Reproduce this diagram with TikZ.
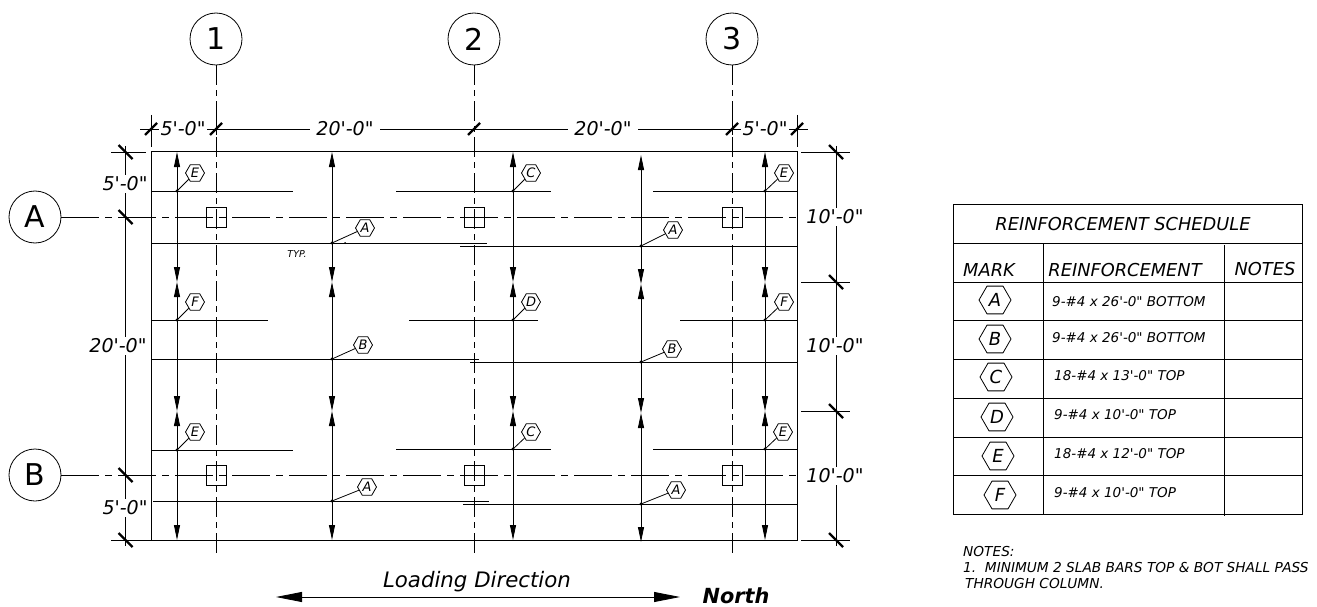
\documentclass[tikz,border=0pt]{standalone}
\usepackage{fontspec}
\setmainfont{DejaVu Sans}[Ligatures=TeXOff]
\usetikzlibrary{shapes.geometric, arrows.meta}
\newcommand{\dimfont}{\fontsize{19}{19}\selectfont\itshape}
\tikzset{
    thinline/.style={line width=.8pt},
    gridv/.style={thinline, dash pattern=on 20pt off 5pt on 6pt off 5pt},
    gridh/.style={thinline, dash pattern=on 38pt off 6pt on 7pt off 6pt},
    barline/.style={line width=.9pt, {Triangle[length=15pt, width=6pt]}-{Triangle[length=15pt, width=6pt]}},
    dimtext/.style={font=\dimfont, fill=white, inner sep=1.5pt},
    bubble/.style={circle, draw, thinline, minimum size=52pt, inner sep=0pt, font=\fontsize{30}{30}\selectfont},
    bartag/.style={regular polygon, regular polygon sides=6, draw, thinline, minimum size=19pt, inner sep=0pt,
        font=\fontsize{13}{13}\selectfont\itshape},
    marktag/.style={regular polygon, regular polygon sides=6, draw, thinline, minimum size=32pt, inner sep=0pt,
        font=\fontsize{18}{18}\selectfont\itshape},
    rowtext/.style={anchor=west, inner sep=0pt, font=\fontsize{13.5}{13.5}\selectfont\itshape},
    notetext/.style={rowtext, font=\fontsize{13.7}{13.7}\selectfont\itshape},
    headtext/.style={inner sep=0pt, font=\fontsize{17.8}{17.8}\selectfont\itshape},
    risetick/.pic={
        \draw[line width=2.2pt] (-6,6) -- (6,-6);
    },
    falltick/.pic={
        \draw[line width=2.2pt] (-7,-7) -- (7,7);
    },
    column/.pic={
        \draw[thinline] (-10,-10) rectangle (10,10);
    },
}

\begin{document}
\begin{tikzpicture}[x=1pt, y=-1pt]
    \useasboundingbox (0,0) rectangle (1317,607);
    % grid bubbles
    \node[bubble] (bubble1) at (216,39) {1};
    \node[bubble] (bubble2) at (474,39) {2};
    \node[bubble] (bubble3) at (732,39) {3};
    \node[bubble] (bubbleA) at (35,217) {A};
    \node[bubble] (bubbleB) at (35,475) {B};
    \coordinate (end1) at (216,553);
    \coordinate (end2) at (474,553);
    \coordinate (end3) at (732,553);
    \coordinate (endA) at (797,217);
    \coordinate (endB) at (797,475);
    \draw[gridv] (bubble1) -- (end1);
    \draw[gridv] (bubble2) -- (end2);
    \draw[gridv] (bubble3) -- (end3);
    \draw[gridh] (bubbleA) -- (endA);
    \draw[gridh] (bubbleB) -- (endB);
    % slab and columns
    \draw[line width=1pt] (151,152) rectangle (797,540);
    \foreach \colx in {216,474,732} {
        \pic at (\colx,217) {column};
        \pic at (\colx,475) {column};
    }
    % horizontal bars
    \draw[thinline] (151,191) -- (293,191);
    \draw[thinline] (396,191) -- (551,191);
    \draw[thinline] (653,191) -- (797,191);
    \draw[thinline] (151,320) -- (268,320);
    \draw[thinline] (409,320) -- (538,320);
    \draw[thinline] (680,320) -- (797,320);
    \draw[thinline] (151,450) -- (293,450);
    \draw[thinline] (396,449) -- (551,449);
    \draw[thinline] (653,449) -- (797,449);
    \draw[thinline] (151,243) -- (487,243);
    \draw[thinline] (460,246) -- (797,246);
    \draw[thinline] (151,359) -- (479,359);
    \draw[thinline] (470,362) -- (797,362);
    \draw[thinline] (153,501) -- (489,501);
    \draw[thinline] (463,504) -- (797,504);
    % vertical bars
    \foreach \barx in {177,332,513,765} {
        \draw[barline] (\barx,152) -- (\barx,282);
        \draw[barline] (\barx,282) -- (\barx,411);
        \draw[barline] (\barx,411) -- (\barx,540);
    }
    \draw[barline] (641,155) -- (641,284);
    \draw[barline] (641,284) -- (641,413);
    \draw[barline] (641,413) -- (641,542);
    % bar marks
    \foreach \tagname/\tagtext/\tagx/\tagy/\dotx/\doty in {
        ea/E/195/173/177/191, fa/F/195/302/177/320, eb/E/195/432/177/450,
        aa/A/365/228/332/243, ba/B/363/345/332/359, ab/A/367/487/332/501,
        ca/C/531/173/513/191, da/D/531/302/513/320, cb/C/531/432/513/449,
        ac/A/673/230/641/246, bb/B/672/349/641/362, ad/A/676/490/641/504,
        ec/E/784/173/765/191, fb/F/784/302/765/320, ed/E/783/432/765/449} {
        \coordinate (dot\tagname) at (\dotx,\doty);
        \fill (dot\tagname) circle (1.6);
        \node[bartag] (tag\tagname) at (\tagx,\tagy) {\tagtext};
        \draw[thinline] (dot\tagname) -- (tag\tagname);
    }
    \fill (345,243) circle (1);
    \node[inner sep=0pt, font=\fontsize{9.5}{9.5}\selectfont\itshape] (typnote) at (297,254) {TYP.};
    % top dimensions
    \draw[thinline] (140,129) -- (808,129);
    \draw[thinline] (151,115) -- (151,147);
    \draw[thinline] (797,115) -- (797,147);
    \draw[thinline] (216,115) -- (216,135);
    \draw[thinline] (732,115) -- (732,135);
    \foreach \tickx in {151,216,474,732,797} {
        \pic at (\tickx,129) {risetick};
    }
    \node[dimtext] (dimtopa) at (183,129) {5'-0"};
    \node[dimtext, inner xsep=6pt] (dimtopb) at (345,129) {20'-0"};
    \node[dimtext, inner xsep=6pt] (dimtopc) at (603,129) {20'-0"};
    \node[dimtext] (dimtopd) at (765,129) {5'-0"};
    % left dimensions
    \draw[thinline] (125.5,146) -- (125.5,546);
    \draw[thinline] (111,152) -- (146,152);
    \draw[thinline] (111,540) -- (151,540);
    \foreach \ticky in {152,217,475,540} {
        \pic at (125.5,\ticky) {falltick};
    }
    \node[dimtext] (dimlefta) at (125,184) {5'-0"};
    \node[dimtext] (dimleftb) at (118,346) {20'-0"};
    \node[dimtext] (dimleftc) at (125,508) {5'-0"};
    % right dimensions
    \draw[thinline] (836,146) -- (836,546);
    \foreach \ticky in {152,282,411,540} {
        \draw[thinline] (801,\ticky) -- (850,\ticky);
        \pic at (836,\ticky) {falltick};
    }
    \node[dimtext] (dimrighta) at (835,217) {10'-0"};
    \node[dimtext] (dimrightb) at (835,346) {10'-0"};
    \node[dimtext] (dimrightc) at (835,476) {10'-0"};
    % loading direction
    \node[inner sep=0pt, font=\fontsize{21.3}{21.3}\selectfont\itshape] (loadtext) at (477,582) {Loading Direction};
    \node[inner sep=0pt, font=\fontsize{20.8}{20.8}\selectfont\itshape\bfseries] (northtext) at (736,595.5) {North};
    \coordinate (loadleft) at (276,597);
    \coordinate (loadright) at (680,597);
    \draw[thinline, {Triangle[length=26pt, width=10pt]}-{Triangle[length=26pt, width=10pt]}] (loadleft) -- (loadright);
    % schedule
    \draw[line width=1pt] (953,204) rectangle (1302,514);
    \foreach \rowy in {243,282,320.5,359,398,437,475.5} {
        \draw[line width=1pt] (953,\rowy) -- (1302,\rowy);
    }
    \draw[line width=1pt] (1043.5,243) -- (1043.5,514);
    \draw[line width=1pt] (1224,245) -- (1224,516);
    \node[headtext] (schedtitle) at (1123,224) {REINFORCEMENT SCHEDULE};
    \node[headtext] (markhead) at (989,270) {MARK};
    \node[headtext] (reinfhead) at (1125,270) {REINFORCEMENT};
    \node[headtext] (noteshead) at (1265,269) {NOTES};
    \node[marktag] (marka) at (995,300) {A};
    \node[marktag] (markb) at (995,339) {B};
    \node[marktag] (markc) at (996,377) {C};
    \node[marktag] (markd) at (997,417) {D};
    \node[marktag] (marke) at (998,456) {E};
    \node[marktag] (markf) at (1000,495) {F};
    \node[rowtext] (rowa) at (1052,302) {9-\#4 x 26'-0" BOTTOM};
    \node[rowtext] (rowb) at (1052,338) {9-\#4 x 26'-0" BOTTOM};
    \node[rowtext] (rowc) at (1054,376) {18-\#4 x 13'-0" TOP};
    \node[rowtext] (rowd) at (1054,415) {9-\#4 x 10'-0" TOP};
    \node[rowtext] (rowe) at (1054,454) {18-\#4 x 12'-0" TOP};
    \node[rowtext] (rowf) at (1054,493) {9-\#4 x 10'-0" TOP};
    % notes
    \node[notetext] (notea) at (963,552) {NOTES:};
    \node[notetext] (noteb) at (963,568) {1.\ \ MINIMUM 2 SLAB BARS TOP \& BOT SHALL PASS};
    \node[notetext] (notec) at (965,584) {THROUGH COLUMN.};
\end{tikzpicture}
\end{document}
